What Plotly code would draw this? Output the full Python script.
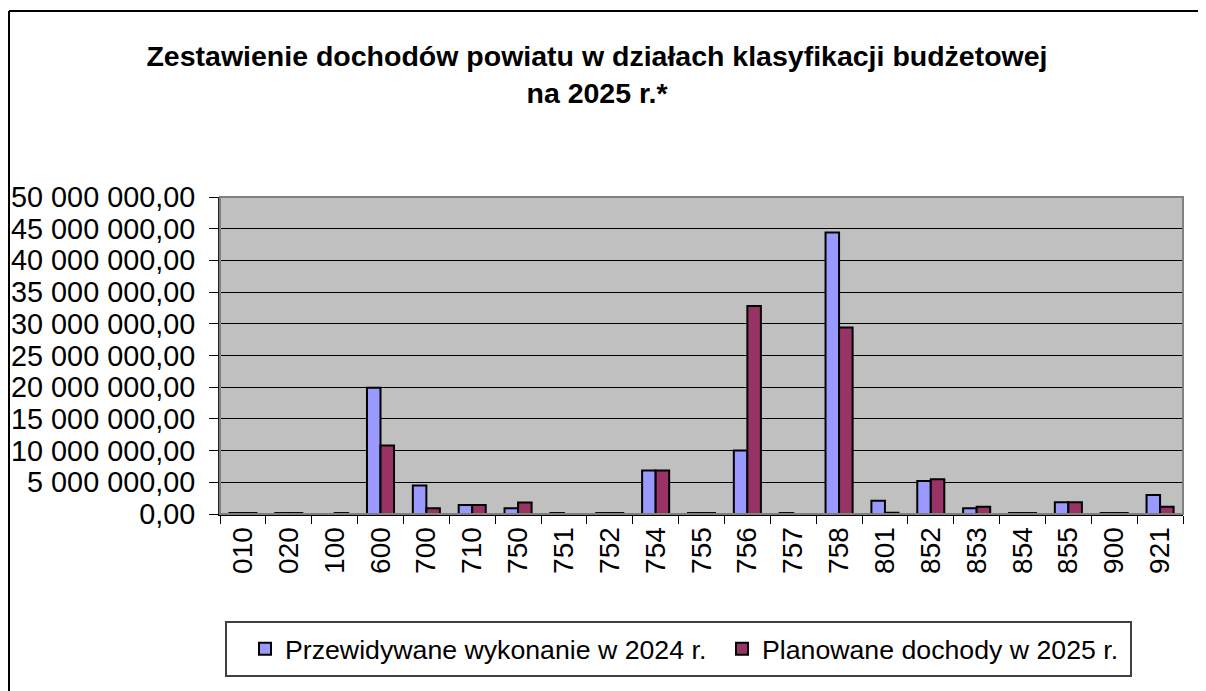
import plotly.graph_objects as go

categories = ["010", "020", "100", "600", "700", "710", "750", "751", "752", "754", "755",
              "756", "757", "758", "801", "852", "853", "854", "855", "900", "921"]
wykonanie_2024 = [150000, 150000, 0, 19900000, 4500000, 1400000, 900000, 150000, 150000, 6850000, 150000,
                  10000000, 150000, 44400000, 2100000, 5200000, 900000, 150000, 1850000, 150000, 3000000]
dochody_2025 = [150000, 150000, 150000, 10800000, 900000, 1400000, 1800000, 0, 150000, 6850000, 150000,
                32800000, 0, 29400000, 200000, 5500000, 1150000, 150000, 1850000, 150000, 1150000]
y_ticks = [0, 5000000, 10000000, 15000000, 20000000, 25000000, 30000000, 35000000, 40000000, 45000000, 50000000]
y_labels = ["0,00", "5 000 000,00", "10 000 000,00", "15 000 000,00", "20 000 000,00", "25 000 000,00",
            "30 000 000,00", "35 000 000,00", "40 000 000,00", "45 000 000,00", "50 000 000,00"]

FONT = "Liberation Sans, Arial, sans-serif"

fig = go.Figure()
fig.add_trace(go.Bar(x=categories, y=wykonanie_2024, name="Przewidywane wykonanie w 2024 r.",
                     marker=dict(color="#9999FF", line=dict(color="black", width=2))))
fig.add_trace(go.Bar(x=categories, y=dochody_2025, name="Planowane dochody w 2025 r.",
                     marker=dict(color="#993366", line=dict(color="black", width=2))))

# page body has an 8px margin: figure coordinates = screen coordinates - 8
OFF = 8
W, H = 1206 - OFF, 691 - OFF
L, T = 220 - OFF, 197 - OFF
R = W - (1183 - OFF)
B = H - (514 - OFF)
pw, ph = W - L - R, H - T - B


def px(x):  # screen x -> paper x
    return (x - OFF - L) / pw


def py(y):  # screen y -> paper y
    return (T + ph - (y - OFF)) / ph


fig.update_layout(
    width=W, height=H,
    margin=dict(l=L, r=R, t=T, b=B, autoexpand=False),
    paper_bgcolor="white",
    plot_bgcolor="#C0C0C0",
    barmode="group", bargap=0.41, bargroupgap=0,
    font=dict(family=FONT, color="black"),
    title=dict(text="<b>Zestawienie dochodów powiatu w działach klasyfikacji budżetowej<br>na 2025 r.*</b>",
               x=(597 - OFF) / W, xanchor="center", xref="container",
               y=1 - (66 - OFF) / H, yanchor="middle", yref="container",
               font=dict(family=FONT, size=28.5, color="black")),
    showlegend=True,
    legend=dict(orientation="h", xref="paper", x=px(245), xanchor="left",
                yref="paper", y=py(649), yanchor="middle",
                bgcolor="rgba(0,0,0,0)", borderwidth=0,
                font=dict(family=FONT, size=26.7, color="black"), itemwidth=30,
                entrywidth=432, entrywidthmode="pixels", traceorder="normal"),
    xaxis=dict(type="category", tickangle=-90, tickson="boundaries", ticks="outside", ticklen=8,
               tickcolor="black", tickwidth=1, showline=True, linecolor="black", linewidth=2,
               tickfont=dict(family=FONT, size=28, color="black"), showgrid=False, automargin=False),
    yaxis=dict(range=[0, 50000000], tickvals=y_ticks, ticktext=y_labels, ticks="outside", ticklen=9,
               tickcolor="black", showline=True, linecolor="#202020", linewidth=2,
               showgrid=True, gridcolor="black", gridwidth=1, zeroline=False, automargin=False,
               ticklabelstandoff=8,
               tickfont=dict(family=FONT, size=28.8, color="black")),
    shapes=[
        dict(type="rect", xref="paper", yref="paper", x0=0, x1=1, y0=0, y1=1,
             line=dict(color="#808080", width=2), fillcolor="rgba(0,0,0,0)", layer="above"),
        # outer chart frame (top and left edges visible)
        dict(type="line", xref="paper", yref="paper", x0=px(9), x1=px(1215),
             y0=py(11), y1=py(11), line=dict(color="black", width=2)),
        dict(type="line", xref="paper", yref="paper", x0=px(9), x1=px(9),
             y0=py(11), y1=py(700), line=dict(color="black", width=2)),
        # legend box
        dict(type="rect", xref="paper", yref="paper", x0=px(226), x1=px(1131),
             y0=py(676), y1=py(622), line=dict(color="#404040", width=2),
             fillcolor="rgba(0,0,0,0)", layer="below"),
    ],
)

fig.write_html("out.html")
